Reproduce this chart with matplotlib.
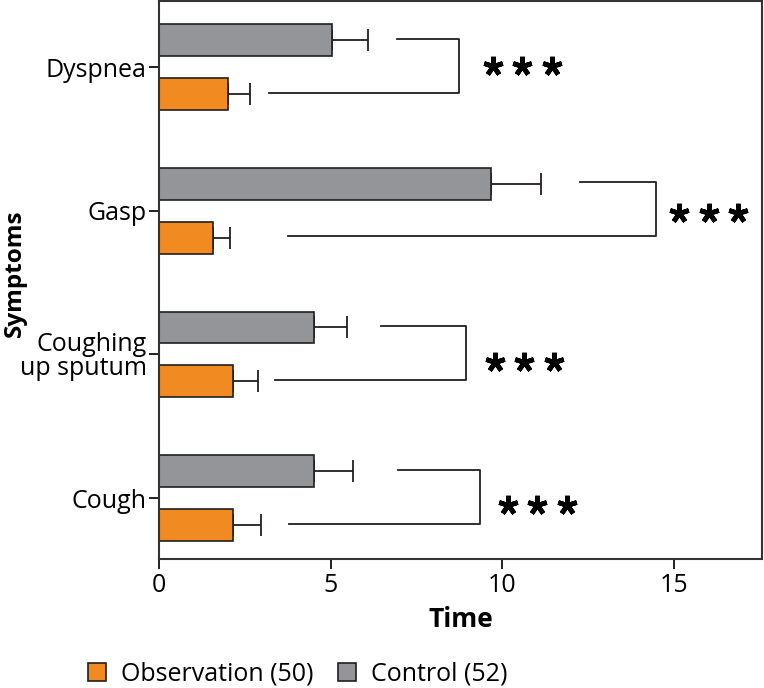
import numpy as np
import matplotlib
matplotlib.use("Agg")
import matplotlib.pyplot as plt
from matplotlib.patches import Patch

plt.rcParams['font.family'] = ['Open Sans', 'DejaVu Sans']

# datos (de abajo hacia arriba)
sintomas = ["Cough", "Coughing\nup sputum", "Gasp", "Dyspnea"]
control = [4.52, 4.52, 9.66, 5.05]
control_err = [1.14, 0.96, 1.47, 1.04]
observacion = [2.16, 2.16, 1.56, 2.0]
observacion_err = [0.81, 0.73, 0.51, 0.65]

# corchetes de significancia: inicio arriba, inicio abajo, linea vertical
corchete_arriba = [6.96, 6.47, 12.27, 6.93]
corchete_abajo = [3.78, 3.37, 3.75, 3.2]
corchete_x = [9.35, 8.94, 14.5, 8.74]
estrellas_x = [10.17, 9.79, 15.16, 9.73]
estrellas_dy = [-0.05, -0.05, -0.016, 0.01]

naranja = "#F28A22"
gris = "#939598"
borde = "#231F20"

fig = plt.figure(figsize=(7.64, 6.88), dpi=100)
ax = fig.add_axes([0.2085, 0.1875, 0.789, 0.811])

y = np.arange(len(sintomas))
alto = 0.222
desp = 0.1875

ax.barh(y + desp, control, height=alto, color=gris, edgecolor=borde, linewidth=1.2, zorder=2)
ax.barh(y - desp, observacion, height=alto, color=naranja, edgecolor=borde, linewidth=1.2, zorder=2)
ax.errorbar(control, y + desp, xerr=[np.zeros(4), control_err], fmt='none',
            ecolor=borde, elinewidth=1.3, capsize=8, capthick=1.3, zorder=1)
ax.errorbar(observacion, y - desp, xerr=[np.zeros(4), observacion_err], fmt='none',
            ecolor=borde, elinewidth=1.3, capsize=8, capthick=1.3, zorder=1)

for i in range(len(sintomas)):
    ya = y[i] + desp + 0.01
    yb = y[i] - desp + 0.01
    ax.plot([corchete_arriba[i], corchete_x[i], corchete_x[i], corchete_abajo[i]],
            [ya, ya, yb, yb], color=borde, linewidth=1.3)
    for k in range(3):
        ax.plot(estrellas_x[i] + k * 0.86, y[i] + estrellas_dy[i], marker=(5, 2, 0),
                markersize=14, markeredgewidth=3.4, color="black", linestyle='none')

ax.set_xlim(0, 17.58)
ax.set_ylim(-0.424, 3.46)
ax.set_xticks([0, 5, 10, 15])
ax.set_yticks(y)
ax.set_yticklabels(sintomas, fontsize=18, linespacing=0.9)
for etiqueta in ax.get_yticklabels():
    etiqueta.set_verticalalignment('center_baseline')
ax.tick_params(axis='x', labelsize=18, length=7, width=1.4, pad=3, color=borde)
ax.tick_params(axis='y', length=7, width=1.4, pad=2, color=borde)
for s in ax.spines.values():
    s.set_linewidth(1.5)
    s.set_color("#333333")

ax.set_xlabel("Time", fontsize=19, fontweight='bold', labelpad=6)
ax.set_ylabel("Symptoms", fontsize=17.5, fontweight='bold')
ax.yaxis.set_label_coords(-0.22, 0.512)

manejadores = [Patch(facecolor=naranja, edgecolor=borde, linewidth=1.2, label="Observation (50)"),
               Patch(facecolor=gris, edgecolor=borde, linewidth=1.2, label="Control (52)")]
fig.legend(handles=manejadores, loc='center', bbox_to_anchor=(0.39, 0.02), ncol=2,
           frameon=False, fontsize=18, handlelength=0.7, handleheight=0.7,
           handletextpad=0.6, columnspacing=1.0)

fig.savefig("out.png", dpi=100)
